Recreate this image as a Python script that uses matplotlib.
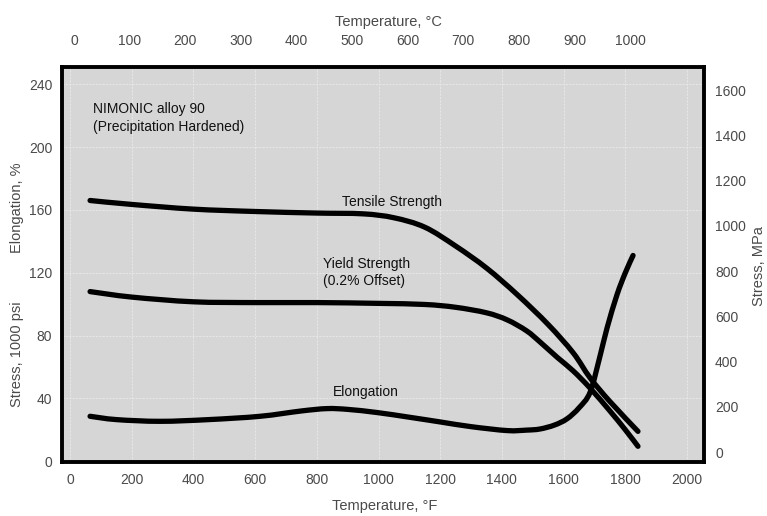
import matplotlib
matplotlib.use("Agg")
import matplotlib.pyplot as plt
from matplotlib.path import Path
from matplotlib.patches import PathPatch

plt.rcParams['font.family'] = ['Liberation Sans', 'DejaVu Sans']

# ---- data (temperature in deg F, stress in 1000 psi, elongation in %) ----
tensile_F = [65, 200, 400, 600, 800, 950, 1050, 1150, 1250, 1350, 1450, 1550, 1631, 1686, 1750, 1841]
tensile_ksi = [166, 163.5, 160.5, 159, 158, 157.5, 155, 149, 137, 123, 106, 87, 69, 53, 38, 19]

yield_F = [65, 200, 400, 600, 800, 1000, 1150, 1250, 1350, 1417, 1480, 1523, 1580, 1631, 1686, 1750, 1800, 1841]
yield_ksi = [108, 104.5, 101.5, 101, 101, 100.5, 99.8, 98, 94.5, 90, 83, 76, 66, 57.5, 46.5, 32, 20, 9.5]

elong_F = [65, 150, 292, 450, 616, 750, 833, 900, 995, 1100, 1200, 1300, 1417, 1480, 1523, 1570,
           1611, 1650, 1686, 1718, 1741, 1773, 1800, 1825]
elong_pct = [28.6, 26.5, 25.4, 26.5, 28.6, 32, 33.5, 33, 31, 28, 25, 22, 19.5, 19.8, 20.5, 23,
             27, 34, 44, 67, 85, 106, 120, 131]

F_ticks = [0, 200, 400, 600, 800, 1000, 1200, 1400, 1600, 1800, 2000]
C_ticks = [0, 100, 200, 300, 400, 500, 600, 700, 800, 900, 1000]
ksi_ticks = [0, 40, 80, 120, 160, 200, 240]
MPa_ticks = [0, 200, 400, 600, 800, 1000, 1200, 1400, 1600]

labels = {
    'title': ["NIMONIC alloy 90", "(Precipitation Hardened)"],
    'tensile': "Tensile Strength",
    'yield': "Yield Strength\n(0.2% Offset)",
    'elong': "Elongation",
}


def smooth_path(xs, ys):
    """Catmull-Rom curve through the read points, drawn as cubic Bezier segments."""
    verts = [(xs[0], ys[0])]
    codes = [Path.MOVETO]
    n = len(xs)
    for i in range(n - 1):
        x0, y0 = (xs[i - 1], ys[i - 1]) if i > 0 else (xs[i], ys[i])
        x1, y1 = xs[i], ys[i]
        x2, y2 = xs[i + 1], ys[i + 1]
        x3, y3 = (xs[i + 2], ys[i + 2]) if i + 2 < n else (xs[i + 1], ys[i + 1])
        c1 = (x1 + (x2 - x0) / 6.0, y1 + (y2 - y0) / 6.0)
        c2 = (x2 - (x3 - x1) / 6.0, y2 - (y3 - y1) / 6.0)
        verts += [c1, c2, (x2, y2)]
        codes += [Path.CURVE4] * 3
    return Path(verts, codes)


# ---- figure ----
W, H = 767, 516
fig = plt.figure(figsize=(W / 100, H / 100), dpi=100)
ax = fig.add_axes([62 / W, 1 - 462 / H, (704 - 62) / W, (462 - 67) / H])
ax.set_facecolor('#d6d6d6')

tick_color = '#4a4a4a'
fs = 10

ax.set_xlim(-26, 2055)
ax.set_ylim(-0.5, 251)
ax.set_xticks(F_ticks)
ax.set_yticks(ksi_ticks)
ax.tick_params(axis='both', length=0, labelsize=fs, labelcolor=tick_color)
ax.tick_params(axis='x', pad=8)
ax.tick_params(axis='y', pad=7)
ax.grid(True, color='#e6e6e6', lw=0.8, ls=(0, (2, 1)), zorder=0)
ax.set_axisbelow(True)

lw = 3.8
for xs, ys in [(tensile_F, tensile_ksi), (yield_F, yield_ksi), (elong_F, elong_pct)]:
    ax.add_patch(PathPatch(smooth_path(xs, ys), fill=False, edgecolor='black', lw=lw,
                           capstyle='round', joinstyle='round', zorder=3))

for s in ax.spines.values():
    s.set_linewidth(2.8)
    s.set_color('black')
    s.set_zorder(4)

# right axis (MPa)
ax2 = ax.twinx()
ax2.set_ylim(-44, 1702)
ax2.set_yticks(MPa_ticks)
ax2.tick_params(axis='y', length=0, labelsize=fs, labelcolor=tick_color, pad=8)
for s in ax2.spines.values():
    s.set_visible(False)

# top axis (deg C)
ax3 = ax.twiny()
ax3.set_xlim(-21.6, 1133)
ax3.set_xticks(C_ticks)
ax3.tick_params(axis='x', length=0, labelsize=fs, labelcolor=tick_color, pad=14)
for s in ax3.spines.values():
    s.set_visible(False)

# axis titles
lab_fs = 10.5
fig.text(388 / W, 1 - 22 / H, "Temperature, °C", ha='center', va='center', fontsize=lab_fs, color=tick_color)
fig.text(385 / W, 1 - 506 / H, "Temperature, °F", ha='center', va='center', fontsize=lab_fs, color=tick_color)
fig.text(17 / W, 1 - 354 / H, "Stress, 1000 psi", ha='center', va='center', rotation=90, fontsize=lab_fs, color=tick_color)
fig.text(17 / W, 1 - 208 / H, "Elongation, %", ha='center', va='center', rotation=90, fontsize=lab_fs, color=tick_color)
fig.text(759 / W, 1 - 266 / H, "Stress, MPa", ha='center', va='center', rotation=90, fontsize=lab_fs, color=tick_color)

# annotations
ax.text(75, 224, labels['title'][0], fontsize=10, color='#111111', va='center', ha='left')
ax.text(75, 213, labels['title'][1], fontsize=10, color='#111111', va='center', ha='left')
ax.text(880, 165, labels['tensile'], fontsize=10, color='#111111', va='center', ha='left')
ax.text(820, 120, labels['yield'], fontsize=10, color='#111111', va='center', ha='left', linespacing=1.3)
ax.text(853, 44, labels['elong'], fontsize=10, color='#111111', va='center', ha='left')

fig.savefig('out.png', dpi=100)
